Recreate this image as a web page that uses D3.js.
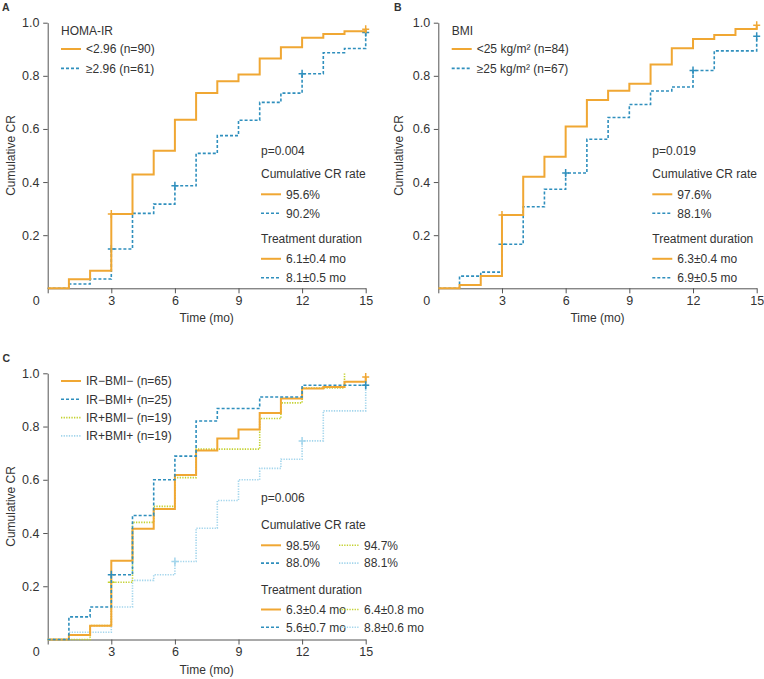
<!DOCTYPE html>
<html><head><meta charset="utf-8">
<script src="https://cdn.jsdelivr.net/npm/d3@7"></script>
<style>
body{margin:0;background:#fff;}
text{font-family:"Liberation Sans",Arial,sans-serif;fill:#333;}
</style></head>
<body><svg id="chart" width="764" height="679"></svg>
<script>
// ---- data ----
const times = [0,1,2,3,4,5,6,7,8,9,10,11,12,13,14,15];
const xTicks = [0,3,6,9,12,15];
const yTicks = [0.2,0.4,0.6,0.8,1.0];

// Panel A: HOMA-IR
const aLow  = [0,0.034,0.066,0.28,0.428,0.518,0.635,0.735,0.78,0.805,0.865,0.908,0.943,0.957,0.968,0.975];
const aHigh = [0,0.016,0.035,0.148,0.282,0.317,0.386,0.508,0.575,0.633,0.70,0.735,0.808,0.887,0.903,0.963];
const aLowCens = [3,15], aHighCens = [3,6,12,15];

// Panel B: BMI
const bLow  = [0,0.0125,0.046,0.276,0.42,0.495,0.609,0.709,0.744,0.77,0.843,0.904,0.939,0.954,0.976,0.99];
const bHigh = [0,0.046,0.061,0.166,0.307,0.373,0.434,0.561,0.643,0.692,0.743,0.758,0.82,0.894,0.894,0.949];
const bLowCens = [3,15], bHighCens = [3,6,12,15];

// Panel C: combined
const cNN = [0,0.017,0.052,0.296,0.416,0.49,0.618,0.71,0.755,0.789,0.851,0.905,0.943,0.949,0.968,0.986];
const cNP = [0,0.085,0.122,0.243,0.466,0.6,0.689,0.821,0.868,0.868,0.911,0.911,0.955,0.955,0.955,0.955];
const cPN = [0,0,0.052,0.215,0.44,0.5,0.608,0.715,0.715,0.715,0.83,0.889,0.945,0.945,1.0];
const cPP = [0,0.027,0.027,0.122,0.222,0.243,0.293,0.418,0.522,0.6,0.643,0.677,0.746,0.859,0.859,0.955];
const cNNCens = [15], cNPCens = [3,15], cPNCens = [3], cPPCens = [6,12,15];

const legendA = ["<2.96 (n=90)", "\u22652.96 (n=61)"];
const legendB = ["<25 kg/m\u00b2 (n=84)", "\u226525 kg/m\u00b2 (n=67)"];
const legendC = ["IR\u2212BMI\u2212 (n=65)", "IR\u2212BMI+ (n=25)", "IR+BMI\u2212 (n=19)", "IR+BMI+ (n=19)"];
const rateA = ["95.6%","90.2%"], durA = ["6.1\u00b10.4 mo","8.1\u00b10.5 mo"];
const rateB = ["97.6%","88.1%"], durB = ["6.3\u00b10.4 mo","6.9\u00b10.5 mo"];
const rateC = ["98.5%","88.0%","94.7%","88.1%"], durC = ["6.3\u00b10.4 mo","5.6\u00b10.7 mo","6.4\u00b10.8 mo","8.8\u00b10.6 mo"];

// ---- styles ----
const ST = {
  orange:{color:"#f0a733", w:2, dash:null},
  blue:{color:"#2f8fbd", w:1.6, dash:"3,2"},
  green:{color:"#c3d12e", w:1.6, dash:"1.3,1.3"},
  lblue:{color:"#a3d5ec", w:1.6, dash:"1.3,1.3"}
};

const svg = d3.select("#chart");

function panel(opt){
  const x = d3.scaleLinear().domain([0,15]).range([opt.x0, opt.x1]);
  const y = d3.scaleLinear().domain([0,1]).range([opt.y0, opt.y1]);
  const g = svg.append("g");

  // x axis
  const xa = g.append("g").attr("transform",`translate(0,${opt.y0})`)
    .call(d3.axisBottom(x).tickValues(xTicks).tickSize(5).tickSizeOuter(0).tickPadding(2.5).tickFormat(d3.format("d")));
  xa.selectAll("text").style("font-size","12.5px").attr("fill","#333")
    .attr("x", d => d===0 ? -12 : 0);
  // y axis
  const ya = g.append("g").attr("transform",`translate(${opt.x0},0)`)
    .call(d3.axisLeft(y).tickValues(yTicks).tickSize(4.5).tickSizeOuter(0).tickPadding(3.7).tickFormat(d3.format(".1f")));
  ya.selectAll("text").style("font-size","12.5px").attr("fill","#333");
  g.selectAll(".domain, .tick line").attr("stroke","#555");
  g.selectAll("g.tick text").attr("font-family",null);
  xa.attr("font-family",null); ya.attr("font-family",null);

  // axis titles
  g.append("text").attr("x",(opt.x0+opt.x1)/2).attr("y",opt.y0+34).attr("text-anchor","middle")
    .style("font-size","12px").text("Time (mo)");
  g.append("text").attr("transform",`translate(${opt.yl},${(opt.y0+opt.y1)/2}) rotate(-90)`)
    .attr("text-anchor","middle").style("font-size","12px").text("Cumulative CR");
  g.append("text").attr("x",opt.lx).attr("y",opt.ly).style("font-size","10.5px").style("font-weight","bold").attr("fill","#222").text(opt.label);

  const line = d3.line().x((d,i)=>x(times[i])).y(d=>y(d)).curve(d3.curveStepAfter);
  opt.series.forEach(s=>{
    const st = ST[s.style];
    g.append("path").datum(s.values).attr("d",line).attr("fill","none")
      .attr("stroke",st.color).attr("stroke-width",st.w).attr("stroke-dasharray",st.dash);
    s.cens.forEach(t=>{
      const cx = x(t), cy = y(s.values[t]);
      g.append("path").attr("d",`M${cx-3.5},${cy}H${cx+3.5}M${cx},${cy-4}V${cy+4}`)
        .attr("stroke",st.color).attr("stroke-width",1.5).attr("fill","none");
    });
  });

  // legend
  const L = opt.legend;
  if (L.title){
    g.append("text").attr("x",L.x).attr("y",L.y).style("font-size","12px").text(L.title);
  }
  L.items.forEach((it,i)=>{
    const yy = L.y0 + i*L.dy;
    const st = ST[it.style];
    g.append("line").attr("x1",L.x).attr("x2",L.x+20).attr("y1",yy).attr("y2",yy)
      .attr("stroke",st.color).attr("stroke-width",st.w).attr("stroke-dasharray",st.dash);
    g.append("text").attr("x",L.x+25).attr("y",yy+4.2).style("font-size","12px").text(it.text);
  });

  // stats block
  const S = opt.stats;
  g.append("text").attr("x",S.x).attr("y",S.py).style("font-size","12px").text(S.p);
  g.append("text").attr("x",S.x).attr("y",S.ry).style("font-size","12px").text("Cumulative CR rate");
  g.append("text").attr("x",S.x).attr("y",S.dy).style("font-size","12px").text("Treatment duration");
  const rows = (arr, y0) => arr.forEach((it,i)=>{
    const col = it.col||0, row = it.row;
    const xx = S.x + col*S.colW, yy = y0 + row*S.rowH;
    const st = ST[it.style];
    g.append("line").attr("x1",xx).attr("x2",xx+20).attr("y1",yy).attr("y2",yy)
      .attr("stroke",st.color).attr("stroke-width",st.w).attr("stroke-dasharray",st.dash);
    g.append("text").attr("x",xx+25).attr("y",yy+4.2).style("font-size","12px").text(it.text);
  });
  rows(S.rates, S.ry+16);
  rows(S.durs, S.dy+15.5);
}

panel({
  x0:47.7, x1:365.7, y0:288.3, y1:22.7, yl:14.5, label:"A", lx:2, ly:11,
  series:[
    {values:aHigh, style:"blue", cens:aHighCens},
    {values:aLow, style:"orange", cens:aLowCens}
  ],
  legend:{title:"HOMA-IR", x:61, y:34.5, y0:49, dy:19.4,
    items:[{style:"orange",text:legendA[0]},{style:"blue",text:legendA[1]}]},
  stats:{x:261, p:"p=0.004", py:155, ry:178.3, dy:243.3, rowH:19, colW:78,
    rates:[{style:"orange",text:rateA[0],row:0},{style:"blue",text:rateA[1],row:1}],
    durs:[{style:"orange",text:durA[0],row:0},{style:"blue",text:durA[1],row:1}]}
});

panel({
  x0:438.3, x1:756.7, y0:288.3, y1:22.7, yl:402.5, label:"B", lx:394, ly:11,
  series:[
    {values:bHigh, style:"blue", cens:bHighCens},
    {values:bLow, style:"orange", cens:bLowCens}
  ],
  legend:{title:"BMI", x:451.7, y:34.5, y0:49, dy:19.4,
    items:[{style:"orange",text:legendB[0]},{style:"blue",text:legendB[1]}]},
  stats:{x:652.3, p:"p=0.019", py:155, ry:178.3, dy:243.3, rowH:19, colW:78,
    rates:[{style:"orange",text:rateB[0],row:0},{style:"blue",text:rateB[1],row:1}],
    durs:[{style:"orange",text:durB[0],row:0},{style:"blue",text:durB[1],row:1}]}
});

panel({
  x0:47.7, x1:365.7, y0:639.5, y1:373.3, yl:14.5, label:"C", lx:2.5, ly:361.5,
  series:[
    {values:cPP, style:"lblue", cens:cPPCens},
    {values:cPN, style:"green", cens:cPNCens},
    {values:cNN, style:"orange", cens:cNNCens},
    {values:cNP, style:"blue", cens:cNPCens}
  ],
  legend:{title:null, x:61, y:0, y0:381, dy:18.3,
    items:[{style:"orange",text:legendC[0]},{style:"blue",text:legendC[1]},{style:"green",text:legendC[2]},{style:"lblue",text:legendC[3]}]},
  stats:{x:261, p:"p=0.006", py:502, ry:529.3, dy:594, rowH:17.8, colW:78,
    rates:[{style:"orange",text:rateC[0],row:0},{style:"blue",text:rateC[1],row:1},{style:"green",text:rateC[2],row:0,col:1},{style:"lblue",text:rateC[3],row:1,col:1}],
    durs:[{style:"orange",text:durC[0],row:0},{style:"blue",text:durC[1],row:1},{style:"green",text:durC[2],row:0,col:1},{style:"lblue",text:durC[3],row:1,col:1}]}
});
</script></body></html>
